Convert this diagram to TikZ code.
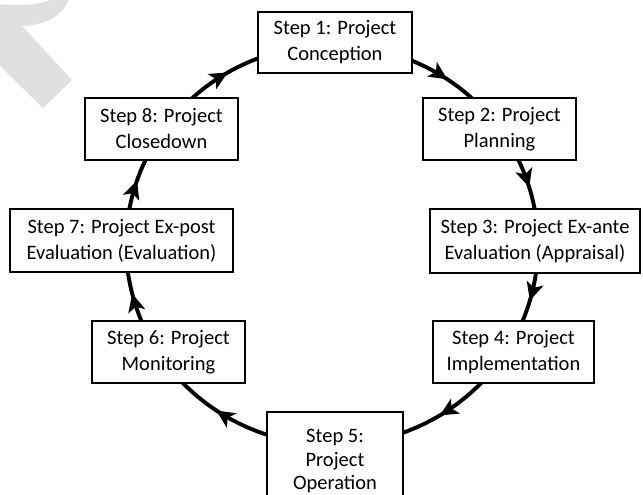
\documentclass[tikz,border=0pt]{standalone}
\usepackage{fontspec}
\setmainfont{Carlito}
\usetikzlibrary{arrows.meta,decorations.markings,calc}
\definecolor{wm}{RGB}{224,224,224}
\begin{document}
\begin{tikzpicture}[x=1pt,y=1pt,
  box/.style={draw=black, line width=1.3pt, fill=white, align=center, inner sep=0pt,
    font=\fontsize{20.5}{26}\selectfont},
  cyc/.style={line width=3.9pt, postaction={decorate},
    decoration={markings, mark=at position 0.56 with {\arrow{Stealth[length=18pt,width=17pt,inset=4.5pt]}}}}]
\useasboundingbox (0,0) rectangle (643,-495);
% watermark
\fill[wm] (0,0) -- (68,0) .. controls (64,-16) and (42,-26) .. (22,-26) -- (72,-80) -- (43,-108) -- (0,-66) -- cycle;
\fill[white] (0,0) -- (50,0) .. controls (40,-5) and (15,-6) .. (0,-4) -- cycle;
% points on the cycle
\coordinate (O) at (332,-245);
\foreach \n/\a in {s1e/68.2, s2n/46.3, s2s/26.2, s3n/9.4, s3s/-7.05, s4n/-23.3, s4s/-42.6, s5e/-70.8,
  s5w/-107.4, s6s/-137.4, s6n/-156.7, s7s/-173.2, s7n/170.6, s8s/153.8, s8n/133.7, s1w/110}
  \coordinate (\n) at ($(O)+(\a:206pt and 200pt)$);
% connectors
\draw[cyc] (s1e) arc[start angle=68.2, end angle=46.3, x radius=206pt, y radius=200pt];
\draw[cyc] (s2s) arc[start angle=26.2, end angle=9.4, x radius=206pt, y radius=200pt];
\draw[cyc] (s3s) arc[start angle=-7.05, end angle=-23.3, x radius=206pt, y radius=200pt];
\draw[cyc] (s4s) arc[start angle=-42.6, end angle=-70.8, x radius=206pt, y radius=200pt];
\draw[cyc] (s5w) arc[start angle=-107.4, end angle=-137.4, x radius=206pt, y radius=200pt];
\draw[cyc] (s6n) arc[start angle=-156.7, end angle=-173.2, x radius=206pt, y radius=200pt];
\draw[cyc] (s7n) arc[start angle=170.6, end angle=153.8, x radius=206pt, y radius=200pt];
\draw[cyc] (s8n) arc[start angle=133.7, end angle=110, x radius=206pt, y radius=200pt];
% boxes
\node[box, minimum width=154pt, minimum height=61pt] (s1) at (335,-42.5) {Step 1: Project\\Conception};
\node[box, minimum width=153pt, minimum height=62pt] (s2) at (499.5,-129) {Step 2: Project\\Planning};
\node[box, minimum width=210pt, minimum height=64pt] (s3) at (535,-241) {Step 3: Project Ex-ante\\Evaluation (Appraisal)};
\node[box, minimum width=161pt, minimum height=62pt] (s4) at (513.5,-352) {Step 4: Project\\Implementation};
\node[box, minimum width=136pt, minimum height=98pt, font=\fontsize{20.5}{23.5}\selectfont] (s5) at (335,-461) {Step 5:\\Project\\Operation};
\node[box, minimum width=153pt, minimum height=62pt] (s6) at (168.5,-352) {Step 6: Project\\Monitoring};
\node[box, minimum width=223pt, minimum height=63pt] (s7) at (121.5,-240.5) {Step 7: Project Ex-post\\Evaluation (Evaluation)};
\node[box, minimum width=153pt, minimum height=62pt] (s8) at (161.5,-129) {Step 8: Project\\Closedown};
\end{tikzpicture}
\end{document}
